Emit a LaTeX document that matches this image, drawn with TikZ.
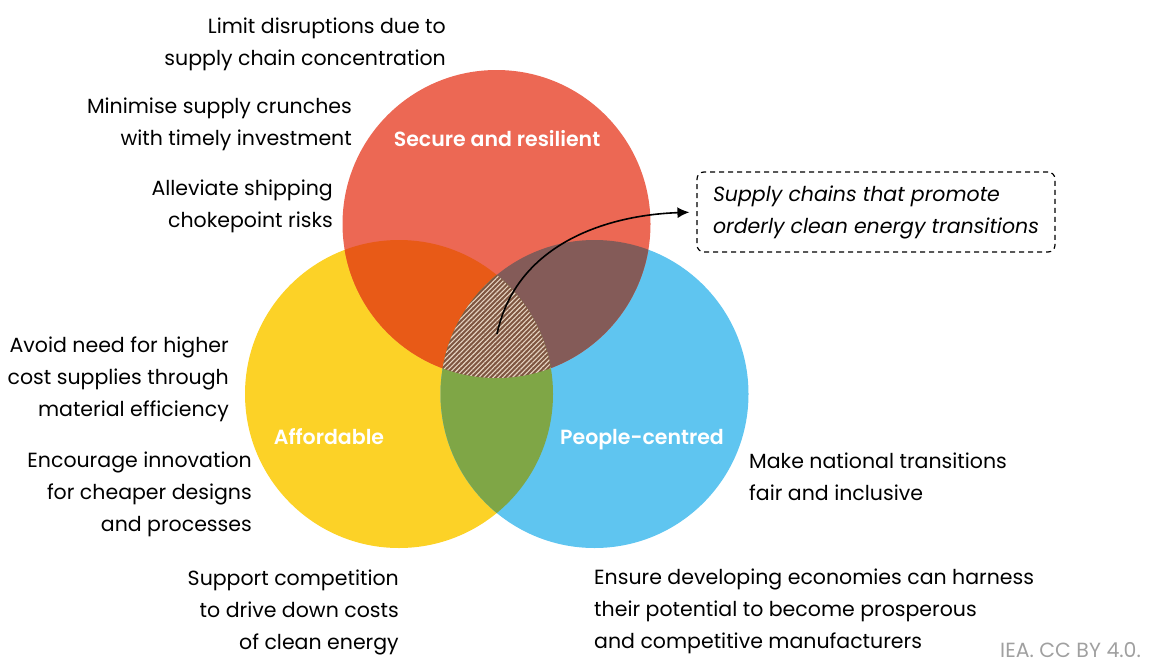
\documentclass[tikz,border=0pt]{standalone}
\usepackage{fontspec}
\setmainfont{Poppins}[BoldFont={Poppins SemiBold}]
\usetikzlibrary{arrows.meta,patterns.meta}
\definecolor{secred}{HTML}{EC6854}
\definecolor{affyellow}{HTML}{FCD227}
\definecolor{peoblue}{HTML}{5FC5F0}
\definecolor{rymix}{HTML}{E85A17}
\definecolor{rbmix}{HTML}{845B58}
\definecolor{ybmix}{HTML}{7FA646}
\definecolor{allmix}{HTML}{7E5540}
\definecolor{hatch}{HTML}{E6D4C2}
\definecolor{credit}{HTML}{A0A0A0}
\begin{document}
\begin{tikzpicture}[x=1pt,y=-1pt,
    txt/.style={font=\fontsize{20.5}{32}\selectfont,inner sep=0pt},
    lbl/.style={font=\fontsize{20.5}{24}\selectfont\bfseries,text=white,inner sep=0pt,anchor=base}]
  \useasboundingbox (0,0) rectangle (1153,664);
  \coordinate (R) at (496.5,224);
  \coordinate (A) at (399,394);
  \coordinate (P) at (594.5,394);

  % circles
  \fill[affyellow] (A) circle (154pt);
  \fill[peoblue] (P) circle (154pt);
  \fill[secred] (R) circle (154pt);
  \begin{scope}
    \clip (R) circle (154pt);
    \fill[rymix] (A) circle (154pt);
    \fill[rbmix] (P) circle (154pt);
  \end{scope}
  \begin{scope}
    \clip (A) circle (154pt);
    \fill[ybmix] (P) circle (154pt);
    \clip (P) circle (154pt);
    \fill[allmix] (R) circle (154pt);
    \fill[pattern={Lines[angle=45,distance=3.4pt,line width=1.1pt]},pattern color=hatch] (R) circle (154pt);
  \end{scope}

  \node[lbl] (secure) at (497,146) {Secure and resilient};
  \node[lbl] (afford) at (329,444) {Affordable};
  \node[lbl] (people) at (642,444) {People-centred};

  % goals
  \node[txt,anchor=east,align=right] (conc) at (446,44) {Limit disruptions due to\\supply chain concentration};
  \node[txt,anchor=east,align=right] (crunch) at (352,124) {Minimise supply crunches\\with timely investment};
  \node[txt,anchor=east,align=right] (ship) at (333,206) {Alleviate shipping\\chokepoint risks};
  \node[txt,anchor=east,align=right] (effic) at (229,379) {Avoid need for higher\\cost supplies through\\material efficiency};
  \node[txt,anchor=east,align=right] (innov) at (252,494) {Encourage innovation\\for cheaper designs\\and processes};
  \node[txt,anchor=east,align=right] (compet) at (399,612) {Support competition\\to drive down costs\\of clean energy};
  \node[txt,anchor=west,align=left] (fair) at (749,477) {Make national transitions\\fair and inclusive};
  \node[txt,anchor=west,align=left] (develop) at (594,611) {Ensure developing economies can harness\\their potential to become prosperous\\and competitive manufacturers};

  \node[txt,font=\fontsize{20.5}{32}\selectfont\itshape,align=left,draw=black,line width=1.2pt,
    dash pattern=on 5pt off 4pt,rounded corners=7pt,
    minimum width=358pt,minimum height=80pt] (orderly) at (876,212)
    {Supply chains that promote\\orderly clean energy transitions};
  \coordinate (core) at (497,334);
  \draw[line width=1.6pt,-{Latex[length=12pt,width=11pt]},shorten >=7pt] (core) to[out=78,in=182] (orderly.west);

  \node[txt,text=credit,anchor=west] (iea) at (1000,650) {IEA. CC BY 4.0.};
\end{tikzpicture}
\end{document}
